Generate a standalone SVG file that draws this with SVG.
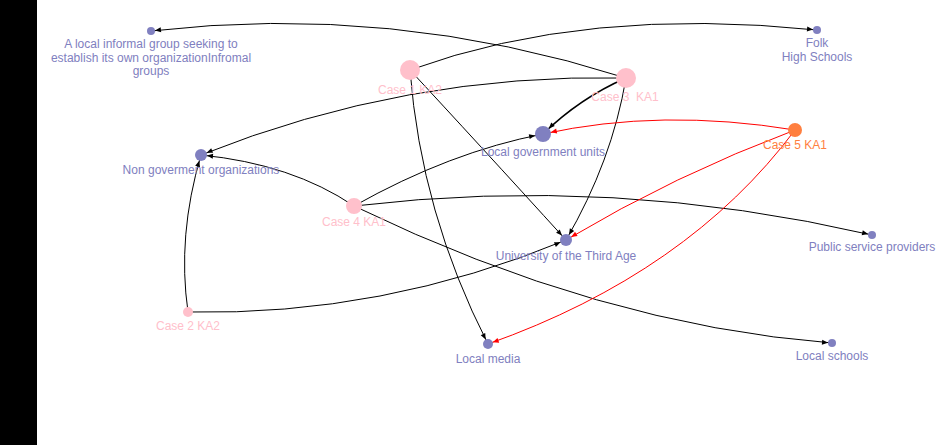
<svg xmlns="http://www.w3.org/2000/svg" width="950" height="445" viewBox="0 0 950 445">
<style>
.e{fill:none;stroke:#000;stroke-width:1}
.r{fill:none;stroke:#ff0000;stroke-width:1}
.t{fill:#8080c0}
.c{fill:#ffc0cb}
.o{fill:#ff7f3f}
text{font-family:"Liberation Sans",Arial,sans-serif;font-size:12px;text-anchor:middle}
.lt{fill:#8080c0}
.lc{fill:#ffc0cb}
.lo{fill:#ff7f3f}
</style>
<defs>
<marker id="a4" markerUnits="userSpaceOnUse" markerWidth="20" markerHeight="10" refX="10" refY="2.5" orient="auto" overflow="visible"><path d="M0,0 L6,2.5 L0,5 z" fill="#000"/></marker>
<marker id="a5" markerUnits="userSpaceOnUse" markerWidth="20" markerHeight="10" refX="11" refY="2.5" orient="auto" overflow="visible"><path d="M0,0 L6,2.5 L0,5 z" fill="#000"/></marker>
<marker id="a6" markerUnits="userSpaceOnUse" markerWidth="20" markerHeight="10" refX="12" refY="2.5" orient="auto" overflow="visible"><path d="M0,0 L6,2.5 L0,5 z" fill="#000"/></marker>
<marker id="a8" markerUnits="userSpaceOnUse" markerWidth="20" markerHeight="10" refX="14" refY="2.5" orient="auto" overflow="visible"><path d="M0,0 L6,2.5 L0,5 z" fill="#000"/></marker>
<marker id="r5" markerUnits="userSpaceOnUse" markerWidth="20" markerHeight="10" refX="11" refY="2.5" orient="auto" overflow="visible"><path d="M0,0 L6,2.5 L0,5 z" fill="#ff0000"/></marker>
<marker id="r6" markerUnits="userSpaceOnUse" markerWidth="20" markerHeight="10" refX="12" refY="2.5" orient="auto" overflow="visible"><path d="M0,0 L6,2.5 L0,5 z" fill="#ff0000"/></marker>
<marker id="r8" markerUnits="userSpaceOnUse" markerWidth="20" markerHeight="10" refX="14" refY="2.5" orient="auto" overflow="visible"><path d="M0,0 L6,2.5 L0,5 z" fill="#ff0000"/></marker>
</defs>
<rect x="0" y="0" width="950" height="445" fill="#fff"/>
<rect x="0" y="0" width="37" height="445" fill="#000"/>
<g id="edges">
<path class="e" d="M626,78 Q391,3 151,31" marker-end="url(#a4)"/>
<path class="e" d="M410,70 Q586,6 817,30" marker-end="url(#a4)"/>
<path class="e" d="M626,78 Q406,73 201,155" marker-end="url(#a6)"/>
<path class="e" style="stroke-width:1.6" d="M626,78 Q580,98 543,134" marker-end="url(#a8)"/>
<path class="e" d="M626,78 Q612,161 566,240" marker-end="url(#a6)"/>
<path class="e" d="M410,70 Q475,140 566,240" marker-end="url(#a6)"/>
<path class="e" d="M410,70 Q421,213 488,344" marker-end="url(#a5)"/>
<path class="e" d="M354,206 Q292,164 201,155" marker-end="url(#a6)"/>
<path class="e" d="M354,206 Q450,152 543,134" marker-end="url(#a8)"/>
<path class="e" d="M354,206 Q613,175 872,235" marker-end="url(#a4)"/>
<path class="e" d="M354,206 Q600,325 832,343" marker-end="url(#a4)"/>
<path class="e" d="M188,312 Q177,236 201,155" marker-end="url(#a6)"/>
<path class="e" d="M188,312 Q383,316 566,240" marker-end="url(#a6)"/>
<path class="r" d="M795,130 Q661,108 543,134" marker-end="url(#r8)"/>
<path class="r" d="M795,130 Q675,175 566,240" marker-end="url(#r6)"/>
<path class="r" d="M795,130 Q688,273 488,344" marker-end="url(#r5)"/>
</g>
<g id="n-informal"><circle class="t" cx="151" cy="31" r="4"/><text class="lt" x="151" y="48">A local informal group seeking to</text><text class="lt" x="151" y="62">establish its own organizationInfromal</text><text class="lt" x="151" y="75">groups</text></g>
<g id="n-folk"><circle class="t" cx="817" cy="30" r="4"/><text class="lt" x="817" y="47">Folk</text><text class="lt" x="817" y="61">High Schools</text></g>
<g id="n-case1"><circle class="c" cx="410" cy="70" r="10"/><text class="lc" x="410" y="94">Case 1 KA2</text></g>
<g id="n-case3"><circle class="c" cx="626" cy="78" r="10"/><text class="lc" x="625" y="101" xml:space="preserve">Case 3  KA1</text></g>
<g id="n-localgov"><circle class="t" cx="543" cy="134" r="8"/><text class="lt" x="543" y="156">Local government units</text></g>
<g id="n-case5"><circle class="o" cx="795" cy="130" r="7"/><text class="lo" x="795" y="149">Case 5 KA1</text></g>
<g id="n-ngo"><circle class="t" cx="201" cy="155" r="6"/><text class="lt" x="201" y="174">Non goverment organizations</text></g>
<g id="n-case4"><circle class="c" cx="354" cy="206" r="8"/><text class="lc" x="354" y="226">Case 4 KA1</text></g>
<g id="n-u3a"><circle class="t" cx="566" cy="240" r="6"/><text class="lt" x="566" y="260">University of the Third Age</text></g>
<g id="n-public"><circle class="t" cx="872" cy="235" r="4"/><text class="lt" x="872" y="251">Public service providers</text></g>
<g id="n-case2"><circle class="c" cx="188" cy="312" r="5"/><text class="lc" x="188" y="330">Case 2 KA2</text></g>
<g id="n-media"><circle class="t" cx="488" cy="344" r="5"/><text class="lt" x="488" y="363">Local media</text></g>
<g id="n-schools"><circle class="t" cx="832" cy="343" r="4"/><text class="lt" x="832" y="360">Local schools</text></g>
</svg>
